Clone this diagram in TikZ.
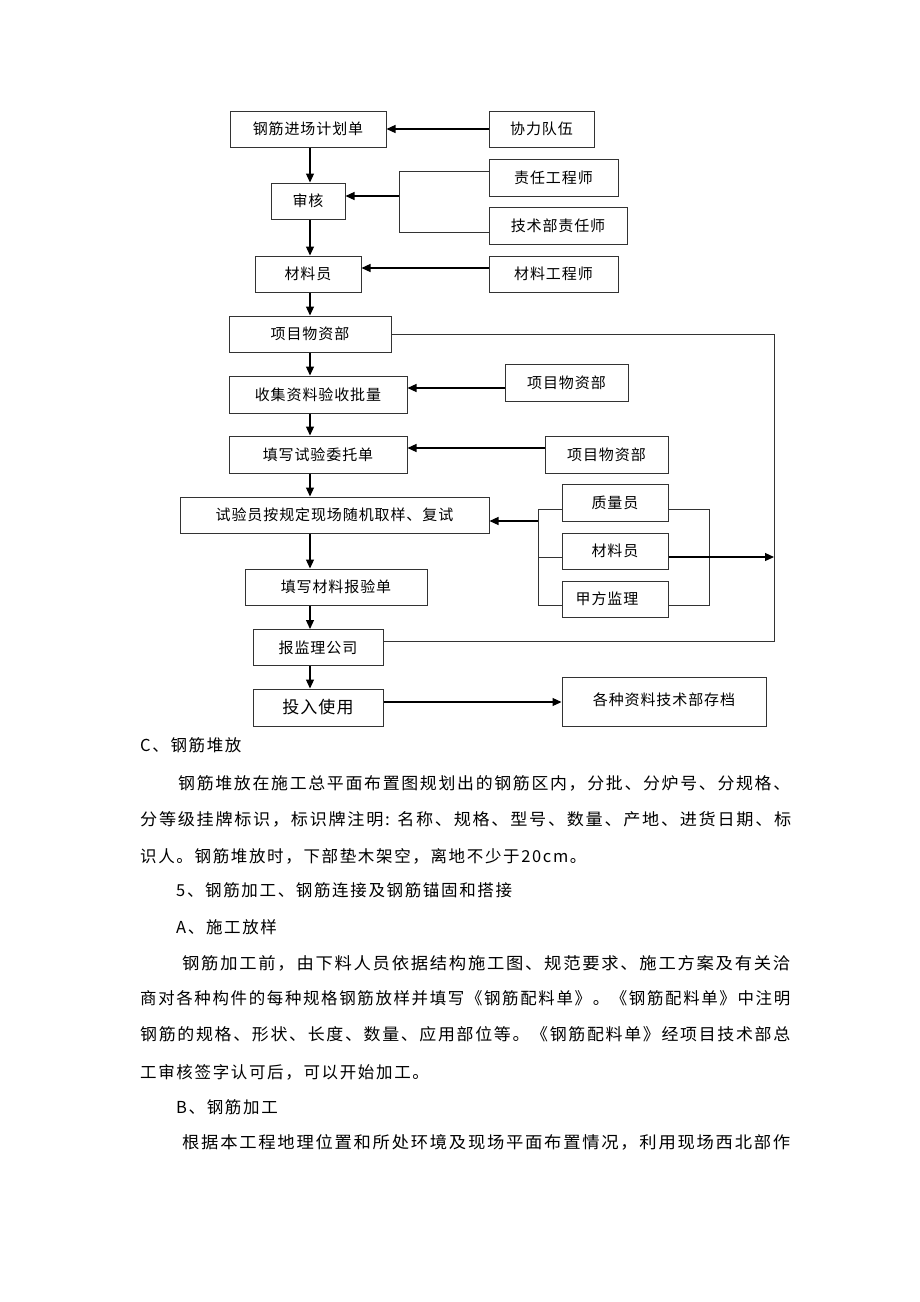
\documentclass[tikz,border=0pt]{standalone}
\usepackage{fontspec}
\usepackage{graphicx}
\newfontfamily\boxf[LetterSpace=6]{Noto Sans CJK SC}
\newfontfamily\bodyf[LetterSpace=10]{Noto Sans CJK SC}
\usetikzlibrary{arrows.meta}
\begin{document}
\begin{tikzpicture}[x=1pt,y=-1pt,
  box/.style={draw=black!80, line width=1pt, inner sep=0pt, minimum height=36pt, anchor=center, font={\boxf\fontsize{15}{18}\selectfont}},
  conn/.style={draw=black!80, line width=1pt},
  arr/.style={line width=1.2pt, -{Triangle[length=9pt,width=8pt]}},
  bodytext/.style={anchor=west, inner sep=0pt, font={\bodyf\fontsize{16.5}{20}\selectfont}}]
\path[fill=white,use as bounding box] (0,0) rectangle (920,1302);
% main column
\node[box,minimum width=156pt] (jc) at (308,129) {钢筋进场计划单};
\node[box,minimum width=74pt] (sh) at (308,201) {审核};
\node[box,minimum width=106pt] (cl) at (308,274) {材料员};
\node[box,minimum width=162pt] (wz) at (310,334) {项目物资部};
\node[box,minimum width=178pt,minimum height=37pt] (sj) at (318,394.5) {收集资料验收批量};
\node[box,minimum width=178pt,minimum height=37pt] (tx) at (318,454.5) {填写试验委托单};
\node[box,minimum width=309pt] (sy) at (334.5,515) {试验员按规定现场随机取样、复试};
\node[box,minimum width=182pt] (bj) at (336,587) {填写材料报验单};
\node[box,minimum width=130pt] (bl) at (318,647.5) {报监理公司};
\node[box,minimum width=130pt,minimum height=37pt,font={\boxf\fontsize{17}{20}\selectfont}] (tr) at (318,707.5) {投入使用};
% side boxes
\node[box,minimum width=105pt] (xl) at (541.5,129) {协力队伍};
\node[box,minimum width=129pt,minimum height=37pt] (zr) at (553.5,177.5) {责任工程师};
\node[box,minimum width=138pt,minimum height=37pt] (js) at (558,225.5) {技术部责任师};
\node[box,minimum width=129pt] (cg) at (553.5,274) {材料工程师};
\node[box,minimum width=123pt,minimum height=37pt] (w2) at (566.5,382.5) {项目物资部};
\node[box,minimum width=123pt,minimum height=37pt] (w3) at (606.5,454.5) {项目物资部};
\node[box,minimum width=106pt,minimum height=37pt] (zl) at (615,502.5) {质量员};
\node[box,minimum width=106pt] (c2) at (615,551) {材料员};
\node[box,minimum width=106pt] (jf) at (615,599) {\hspace*{-16pt}甲方监理};
\node[box,minimum width=204pt,minimum height=49pt] (gz) at (664,701.5) {\raisebox{5pt}{各种资料技术部存档}};
% helper coordinates
\coordinate (col) at (310,0);
\coordinate (bk) at (399,0);
\coordinate (rx) at (774,0);
\coordinate (lb) at (538,0);
\coordinate (rb) at (709,0);
\coordinate (zrw) at ([yshift=6.5pt]zr.west);
\coordinate (jsw) at ([yshift=-6.5pt]js.west);
\coordinate (she) at ([yshift=5pt]sh.east);
\coordinate (blr) at ([yshift=6.5pt]bl.east);
\coordinate (w2w) at ([yshift=-5.5pt]w2.west);
\coordinate (w3w) at ([yshift=6.5pt]w3.west);
\coordinate (zlw) at ([yshift=-6.5pt]zl.west);
\coordinate (c2w) at ([yshift=-6pt]c2.west);
\coordinate (jfw) at ([yshift=-6pt]jf.west);
\coordinate (zle) at ([yshift=-6.5pt]zl.east);
\coordinate (c2e) at ([yshift=-6pt]c2.east);
\coordinate (jfe) at ([yshift=-6pt]jf.east);
\coordinate (sye) at ([yshift=-6pt]sy.east);
\coordinate (tre) at ([yshift=5.5pt]tr.east);
% vertical arrows
\draw[arr] (col |- jc.south) -- (col |- sh.north);
\draw[arr] (col |- sh.south) -- (col |- cl.north);
\draw[arr] (col |- cl.south) -- (col |- wz.north);
\draw[arr] (col |- wz.south) -- (col |- sj.north);
\draw[arr] (col |- sj.south) -- (col |- tx.north);
\draw[arr] (col |- tx.south) -- (col |- sy.north);
\draw[arr] (col |- sy.south) -- (col |- bj.north);
\draw[arr] (col |- bj.south) -- (col |- bl.north);
\draw[arr] (col |- bl.south) -- (col |- tr.north);
% side connectors
\draw[arr] (xl.west) -- (jc.east);
\draw[conn] (zrw) -- (bk |- zrw) -- (bk |- jsw) -- (jsw);
\draw[arr] (bk |- she) -- (she);
\draw[arr] ([yshift=6pt]cg.west) -- ([yshift=6pt]cl.east);
\draw[conn] (wz.east) -- (rx |- wz.east) -- (rx |- blr) -- (blr);
\draw[arr] (w2w) -- (sj.east |- w2w);
\draw[arr] (w3w) -- (tx.east |- w3w);
\draw[conn] (zlw) -- (lb |- zlw) -- (lb |- jfw) -- (jfw);
\draw[conn] (c2w) -- (lb |- c2w);
\draw[arr] (lb |- sye) -- (sye);
\draw[conn] (zle) -- (rb |- zle) -- (rb |- jfe) -- (jfe);
\draw[arr] (c2e) -- (rx |- c2e);
\draw[arr] (tre) -- (gz.west |- tre);
% body text
\node[bodytext] (t1) at (140,745) {C、钢筋堆放};
\node[bodytext] (t2) at (178,783) {\resizebox{612pt}{\height}{钢筋堆放在施工总平面布置图规划出的钢筋区内，分批、分炉号、分规格、}};
\node[bodytext] (t3) at (140,819) {\resizebox{651pt}{\height}{分等级挂牌标识，标识牌注明: 名称、规格、型号、数量、产地、进货日期、标}};
\node[bodytext] (t4) at (140,856) {识人。钢筋堆放时，下部垫木架空，离地不少于20cm。};
\node[bodytext] (t5) at (176,890) {5、钢筋加工、钢筋连接及钢筋锚固和搭接};
\node[bodytext] (t6) at (176,927) {A、施工放样};
\node[bodytext] (t7) at (182,963) {\resizebox{608pt}{\height}{钢筋加工前，由下料人员依据结构施工图、规范要求、施工方案及有关洽}};
\node[bodytext] (t8) at (140,998) {\resizebox{650pt}{\height}{商对各种构件的每种规格钢筋放样并填写《钢筋配料单》。《钢筋配料单》中注明}};
\node[bodytext] (t9) at (140,1034) {\resizebox{650pt}{\height}{钢筋的规格、形状、长度、数量、应用部位等。《钢筋配料单》经项目技术部总}};
\node[bodytext] (t10) at (140,1072) {工审核签字认可后，可以开始加工。};
\node[bodytext] (t11) at (176,1107) {B、钢筋加工};
\node[bodytext] (t12) at (182,1142) {\resizebox{608pt}{\height}{根据本工程地理位置和所处环境及现场平面布置情况，利用现场西北部作}};
\end{tikzpicture}
\end{document}
